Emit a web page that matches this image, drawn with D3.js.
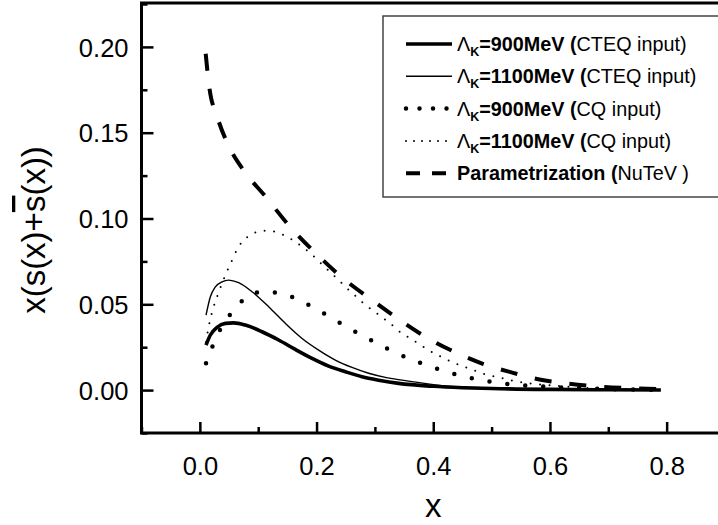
<!DOCTYPE html>
<html>
<head>
<meta charset="utf-8">
<script src="https://cdn.jsdelivr.net/npm/d3@7"></script>
<style>
  body { margin: 0; background: #fff; }
  svg { display: block; font-family: "Liberation Sans", Arial, sans-serif; }
</style>
</head>
<body>
<div id="chart"></div>
<script>
// curves: [x, x(s+sbar)]
const cteq900 = [[0.0106,0.0262],[0.018,0.0321],[0.0295,0.0366],[0.0437,0.0389],[0.0579,0.0392],[0.078,0.0379],[0.1066,0.034],[0.135,0.0292],[0.1636,0.0237],[0.1923,0.0185],[0.2207,0.014],[0.2494,0.0107],[0.278,0.0078],[0.3064,0.0058],[0.3407,0.0039],[0.4,0.0022],[0.45,0.0014],[0.5,0.0009],[0.6,0.0004],[0.7,0.0002],[0.79,0.0001]];
const cteq1100 = [[0.0106,0.0437],[0.018,0.0544],[0.0266,0.0602],[0.038,0.0631],[0.0494,0.0641],[0.0665,0.0626],[0.0895,0.0573],[0.1179,0.0486],[0.1465,0.0389],[0.1752,0.0301],[0.2036,0.0233],[0.2322,0.0175],[0.2608,0.0132],[0.2893,0.0098],[0.3179,0.0074],[0.3465,0.0058],[0.3664,0.0048],[0.4237,0.0023],[0.5,0.0012],[0.6,0.0005],[0.7,0.0002],[0.79,0.0001]];
const cq900 = [[0.0106,0.0156],[0.0219,0.0257],[0.0351,0.0354],[0.0535,0.0447],[0.0792,0.0538],[0.1066,0.0573],[0.135,0.0567],[0.1636,0.0535],[0.1922,0.0486],[0.2207,0.0431],[0.2494,0.0373],[0.278,0.0319],[0.3064,0.0268],[0.3338,0.022],[0.3625,0.0179],[0.3911,0.0142],[0.4195,0.0111],[0.448,0.0083],[0.4766,0.0062],[0.5051,0.0045],[0.5339,0.0033],[0.58,0.0022],[0.63,0.0014],[0.68,0.0008],[0.79,0.0002]];
const cq1100 = [[0.0106,0.028],[0.0151,0.0369],[0.0237,0.0486],[0.0295,0.0544],[0.038,0.0622],[0.0449,0.068],[0.0523,0.0735],[0.0665,0.0836],[0.0809,0.089],[0.0963,0.092],[0.1123,0.0929],[0.1282,0.0923],[0.1436,0.0904],[0.159,0.0875],[0.1752,0.0836],[0.1911,0.0793],[0.2065,0.0742],[0.2207,0.0696],[0.2379,0.0641],[0.2523,0.0593],[0.2682,0.0544],[0.2836,0.0496],[0.2996,0.0457],[0.315,0.0418],[0.3294,0.0379],[0.3448,0.0334],[0.3608,0.0301],[0.3767,0.0266],[0.3921,0.0233],[0.4075,0.0204],[0.4224,0.0179],[0.4379,0.0156],[0.4533,0.0136],[0.4692,0.0117],[0.4836,0.0097],[0.4996,0.0083],[0.515,0.0072],[0.531,0.0058],[0.5464,0.0048],[0.6,0.0028],[0.65,0.0015],[0.7,0.0008],[0.79,0.0003]];
const nutev = [[0.01,0.196],[0.016,0.177],[0.03,0.159],[0.047,0.144],[0.075,0.128],[0.112,0.113],[0.155,0.095],[0.204,0.078],[0.246,0.065],[0.295,0.0525],[0.342,0.041],[0.392,0.030],[0.44,0.0217],[0.486,0.0152],[0.534,0.0103],[0.582,0.0062],[0.629,0.0039],[0.675,0.0023],[0.73,0.0012],[0.79,0.0006]];

const xTicks = [0, 0.2, 0.4, 0.6, 0.8];
const xMinor = [-0.1, 0.1, 0.3, 0.5, 0.7, 0.9];
const yTicks = [0, 0.05, 0.10, 0.15, 0.20];
const yMinor = [-0.025, 0.025, 0.075, 0.125, 0.175, 0.225];

const series = [
  {data: cteq900, lam: "900", input: "CTEQ input)", width: 3.6, dash: null, legendDash: null, cap: "butt"},
  {data: cteq1100, lam: "1100", input: "CTEQ input)", width: 1.4, dash: null, legendDash: null, cap: "butt"},
  {data: cq900, lam: "900", input: "CQ input)", width: 4.5, dash: "0,18", legendDash: "0,13.5", cap: "round"},
  {data: cq1100, lam: "1100", input: "CQ input)", width: 2, dash: "0,9.5", legendDash: "0,8", cap: "round"},
  {data: nutev, lam: null, input: "NuTeV )", width: 4, dash: "17,18", legendDash: "14,12", cap: "butt"}
];

const W = 718, H = 525;
const svg = d3.select("#chart").append("svg")
  .attr("width", W).attr("height", H);

const x = d3.scaleLinear().domain([-0.1, 0.9]).range([141.5, 725]);
const y = d3.scaleLinear().domain([-0.025, 0.225]).range([433, 4]);

// x axis
const gx = svg.append("g")
  .attr("transform", "translate(0," + y(-0.025) + ")")
  .call(d3.axisBottom(x).tickValues(xTicks).tickSize(-11).tickPadding(24).tickFormat(d3.format(".1f")));
const gxm = svg.append("g")
  .attr("transform", "translate(0," + y(-0.025) + ")")
  .call(d3.axisBottom(x).tickValues(xMinor).tickSize(-6).tickFormat(""));

// y axis
const gy = svg.append("g")
  .attr("transform", "translate(" + x(-0.1) + ",0)")
  .call(d3.axisLeft(y).tickValues(yTicks).tickSize(-12).tickPadding(13).tickFormat(d3.format(".2f")));
const gym = svg.append("g")
  .attr("transform", "translate(" + x(-0.1) + ",0)")
  .call(d3.axisLeft(y).tickValues(yMinor).tickSize(-6).tickFormat(""));

[gx, gxm, gy, gym].forEach(g => {
  g.select(".domain").remove();
  g.selectAll(".tick line").attr("stroke", "#000").attr("stroke-width", 2.5);
  g.selectAll(".tick text").attr("fill", "#000").style("font-size", "25.5px")
    .style("font-family", "'Liberation Sans', Arial, sans-serif");
});
gy.selectAll(".tick text").attr("dy", "0.36em");

// frame
svg.append("rect")
  .attr("x", x(-0.1)).attr("y", y(0.225) - 1)
  .attr("width", x(0.9) - x(-0.1)).attr("height", y(-0.025) - y(0.225) + 1)
  .attr("fill", "none").attr("stroke", "#000").attr("stroke-width", 3);

// curves
const line = d3.line().x(d => x(d[0])).y(d => y(d[1])).curve(d3.curveMonotoneX);
svg.append("g").selectAll("path")
  .data(series)
  .enter().append("path")
    .attr("d", d => line(d.data))
    .attr("fill", "none")
    .attr("stroke", "#000")
    .attr("stroke-width", d => d.width)
    .attr("stroke-linecap", d => d.cap)
    .attr("stroke-dasharray", d => d.dash);

// legend
const legend = svg.append("g");
legend.append("rect")
  .attr("x", 383).attr("y", 16).attr("width", 360).attr("height", 181)
  .attr("fill", "#fff").attr("stroke", "#444").attr("stroke-width", 1.5);

series.forEach((s, i) => {
  const ly = 44 + i * 32.3;
  legend.append("line")
    .attr("x1", 406).attr("x2", 452).attr("y1", ly).attr("y2", ly)
    .attr("stroke", "#000")
    .attr("stroke-width", s.width)
    .attr("stroke-linecap", s.cap)
    .attr("stroke-dasharray", s.legendDash);
  const t = legend.append("text")
    .attr("x", 457).attr("y", ly + 7)
    .style("font-size", "19.8px");
  if (s.lam) {
    t.append("tspan").text("Λ");
    t.append("tspan").attr("dy", 5).style("font-size", "12.5px").style("font-weight", "bold").text("K");
    t.append("tspan").attr("dy", -5).style("font-weight", "bold").text("=" + s.lam + "MeV (");
  } else {
    t.append("tspan").style("font-weight", "bold").text("Parametrization (");
  }
  t.append("tspan").text(s.input);
});

// axis titles
svg.append("text")
  .attr("x", x(0.4)).attr("y", 517)
  .attr("text-anchor", "middle")
  .style("font-size", "33px")
  .text("x");

const yl = svg.append("text")
  .attr("transform", "translate(45,230) rotate(-90)")
  .attr("text-anchor", "middle")
  .style("font-size", "33px");
yl.append("tspan").text("x(s(x)+");
yl.append("tspan").style("text-decoration", "overline").text("s");
yl.append("tspan").text("(x))");
</script>
</body>
</html>
